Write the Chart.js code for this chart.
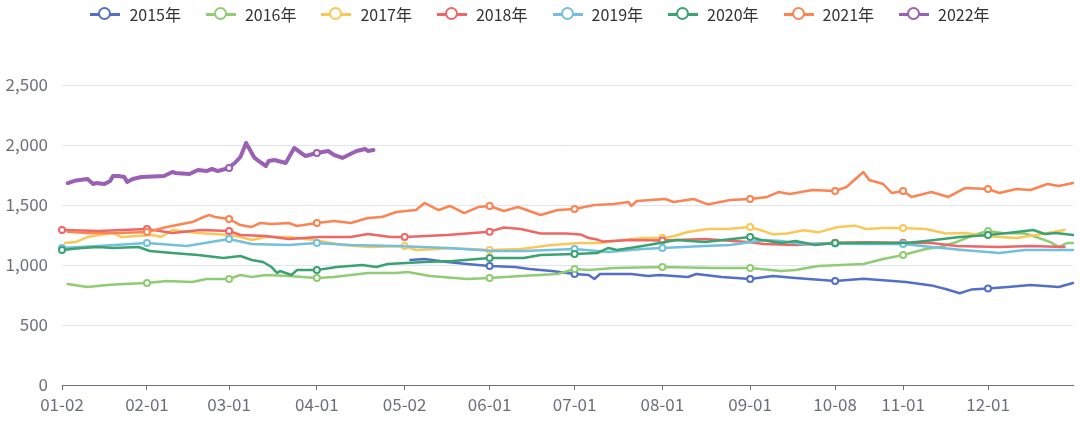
<!DOCTYPE html>
<html><head><meta charset="utf-8">
<script src="https://cdn.jsdelivr.net/npm/chart.js@4/dist/chart.umd.min.js"></script>
<style>
html,body{margin:0;padding:0;background:#fff;}
#wrap{position:relative;width:1080px;height:425px;}
#legend{position:absolute;top:3px;left:0;width:1080px;display:flex;justify-content:center;gap:25px;font:16px "Noto Sans CJK SC",sans-serif;color:#333;}
.item{display:flex;align-items:center;height:22px;}
.icon{position:relative;width:30px;height:22px;margin-right:9px;}
.icon .ln{position:absolute;left:0;top:10px;width:30px;height:3px;}
.icon .dot{position:absolute;left:8px;top:4px;width:9px;height:9px;border:2.5px solid;border-radius:50%;background:#fff;}
</style></head>
<body>
<div id="wrap"><div id="legend"></div><canvas id="c" width="1080" height="425"></canvas></div>
<script>
// ---- categories / tick labels ----
const monthDays = [31,29,31,30,31,30,31,31,30,31,30,31];
const skipDays = ['01-01','10-01','10-02','10-03','10-04','10-05','10-06','10-07'];
const tickLabels = ['01-02','02-01','03-01','04-01','05-02','06-01','07-01','08-01','09-01','10-08','11-01','12-01'];
const categories = [];
monthDays.forEach((n,m)=>{for(let d=1;d<=n;d++){const s=String(m+1).padStart(2,'0')+'-'+String(d).padStart(2,'0'); if(!skipDays.includes(s)) categories.push(s);}});

const seriesNames = ['2015年','2016年','2017年','2018年','2019年','2020年','2021年','2022年'];
const seriesColors = ['#5470c6','#91cc75','#fac858','#ee6666','#73c0de','#3ba272','#fc8452','#9a60b4'];

// ---- series values [date, value] ----
const s2015 = [['05-04',1042],['05-09',1050],['05-17',1025],['05-24',1008],['06-01',992],['06-10',983],['06-15',967],['06-23',950],['07-01',925],['07-06',917],['07-08',883],['07-10',925],['07-21',925],['07-27',908],['07-31',917],['08-10',900],['08-13',925],['08-22',900],['09-01',883],['09-09',908],['09-17',892],['10-08',867],['10-18',885],['11-02',858],['11-11',830],['11-16',800],['11-21',765],['11-25',795],['12-01',805],['12-08',817],['12-16',833],['12-26',817],['12-31',850]];
const s2016 = [['01-04',842],['01-11',817],['01-18',833],['01-24',842],['02-01',850],['02-08',867],['02-17',858],['02-22',883],['03-01',883],['03-05',917],['03-09',900],['03-14',917],['03-22',908],['04-01',892],['04-07',900],['04-13',917],['04-19',933],['04-29',933],['05-03',942],['05-11',908],['05-24',883],['06-01',892],['06-12',908],['06-25',925],['07-01',967],['07-06',958],['07-15',975],['08-01',983],['08-19',975],['09-01',975],['09-12',950],['09-17',958],['09-25',992],['10-10',1000],['10-18',1008],['10-25',1050],['11-01',1083],['11-09',1133],['11-14',1150],['11-20',1192],['11-26',1250],['12-01',1283],['12-06',1267],['12-14',1262],['12-19',1225],['12-23',1190],['12-26',1150],['12-29',1183],['12-31',1183]];
const s2017 = [['01-03',1183],['01-07',1192],['01-11',1233],['01-15',1250],['01-20',1267],['01-23',1233],['02-03',1250],['02-06',1233],['02-10',1292],['02-19',1267],['03-01',1250],['03-05',1233],['03-09',1208],['03-14',1233],['03-22',1233],['03-31',1208],['04-10',1167],['04-20',1150],['05-02',1158],['05-06',1125],['05-14',1133],['05-17',1142],['06-01',1125],['06-12',1133],['06-23',1167],['07-03',1183],['07-10',1183],['07-18',1208],['07-25',1225],['08-01',1225],['08-05',1240],['08-10',1275],['08-17',1300],['08-24',1300],['09-01',1317],['09-06',1280],['09-09',1255],['09-14',1262],['09-20',1290],['09-25',1272],['10-09',1317],['10-15',1328],['10-19',1300],['10-25',1308],['11-01',1308],['11-09',1300],['11-16',1262],['11-23',1267],['11-30',1242],['12-11',1225],['12-18',1250],['12-28',1292]];
const s2018 = [['01-02',1292],['01-15',1283],['02-01',1300],['02-10',1267],['02-20',1292],['03-01',1283],['03-05',1250],['03-14',1242],['03-22',1217],['04-02',1233],['04-13',1233],['04-19',1258],['04-27',1233],['05-02',1233],['05-17',1250],['06-01',1278],['06-06',1312],['06-12',1300],['06-19',1262],['06-28',1262],['07-03',1255],['07-06',1225],['07-09',1212],['07-11',1195],['07-21',1208],['08-01',1205],['08-16',1217],['08-31',1192],['09-06',1175],['09-17',1167],['10-08',1185],['10-19',1190],['11-01',1185],['11-11',1183],['11-20',1158],['12-05',1150],['12-16',1158],['12-28',1150]];
const s2019 = [['01-02',1142],['01-15',1158],['02-01',1183],['02-15',1158],['03-01',1217],['03-09',1175],['03-22',1167],['04-01',1183],['04-13',1167],['04-29',1158],['05-17',1142],['06-03',1117],['06-13',1117],['07-01',1133],['07-13',1108],['07-25',1133],['08-01',1142],['08-16',1158],['08-25',1167],['08-30',1183],['09-06',1208],['09-12',1200],['09-19',1175],['10-08',1180],['10-19',1175],['11-01',1175],['11-11',1150],['11-22',1125],['12-05',1100],['12-14',1125],['12-31',1125]];
const s2020 = [['01-02',1125],['01-09',1142],['01-15',1150],['01-20',1142],['01-29',1150],['02-02',1117],['02-10',1100],['02-19',1083],['02-28',1058],['03-05',1075],['03-09',1042],['03-13',1025],['03-16',983],['03-18',933],['03-19',950],['03-23',917],['03-25',958],['04-01',958],['04-08',983],['04-17',1000],['04-22',983],['04-26',1008],['05-09',1025],['05-19',1033],['06-01',1058],['06-13',1058],['06-19',1083],['07-01',1092],['07-09',1100],['07-13',1142],['07-16',1125],['07-25',1158],['07-31',1183],['08-06',1208],['08-16',1192],['09-01',1233],['09-05',1208],['09-12',1183],['09-17',1200],['09-24',1167],['10-08',1183],['10-19',1183],['11-02',1183],['11-09',1200],['11-21',1233],['12-01',1250],['12-08',1267],['12-17',1292],['12-21',1258],['12-25',1267],['12-31',1250]];
const s2021 = [['01-04',1278],['01-11',1267],['01-22',1267],['02-01',1275],['02-08',1317],['02-17',1358],['02-21',1400],['02-23',1417],['02-25',1400],['03-01',1383],['03-05',1333],['03-09',1317],['03-12',1350],['03-16',1342],['03-22',1350],['03-25',1325],['04-01',1350],['04-07',1367],['04-13',1350],['04-19',1392],['04-24',1400],['04-29',1442],['05-06',1458],['05-09',1517],['05-11',1492],['05-14',1458],['05-18',1492],['05-23',1433],['05-28',1483],['06-01',1492],['06-06',1450],['06-11',1483],['06-19',1417],['06-25',1458],['07-01',1467],['07-08',1500],['07-15',1508],['07-20',1525],['07-21',1492],['07-23',1533],['08-02',1550],['08-05',1525],['08-12',1550],['08-17',1505],['08-25',1542],['09-01',1550],['09-07',1567],['09-11',1608],['09-15',1592],['09-23',1625],['10-08',1617],['10-12',1650],['10-14',1692],['10-18',1775],['10-20',1708],['10-25',1675],['10-28',1600],['11-01',1617],['11-04',1567],['11-11',1608],['11-17',1567],['11-23',1642],['12-01',1633],['12-05',1600],['12-11',1633],['12-16',1625],['12-22',1675],['12-26',1658],['12-31',1683]];
const s2022 = [['01-04',1683],['01-07',1705],['01-11',1717],['01-13',1675],['01-14',1683],['01-17',1675],['01-19',1700],['01-20',1742],['01-22',1742],['01-24',1733],['01-25',1692],['01-27',1717],['01-30',1733],['02-07',1742],['02-10',1775],['02-11',1767],['02-16',1758],['02-19',1792],['02-22',1783],['02-24',1800],['02-26',1783],['03-01',1808],['03-02',1833],['03-03',1850],['03-05',1900],['03-07',2017],['03-10',1892],['03-12',1858],['03-14',1825],['03-15',1867],['03-17',1875],['03-21',1850],['03-24',1975],['03-28',1908],['04-01',1933],['04-05',1950],['04-07',1917],['04-10',1892],['04-15',1950],['04-18',1967],['04-19',1950],['04-21',1958]];

const allSeries = [s2015,s2016,s2017,s2018,s2019,s2020,s2021,s2022];
const yTicks = [0,500,1000,1500,2000,2500];

// ---- legend (HTML text) ----
const legend = document.getElementById('legend');
seriesNames.forEach((n,i)=>{
  const it=document.createElement('div'); it.className='item';
  it.innerHTML='<div class="icon"><div class="ln" style="background:'+seriesColors[i]+'"></div><div class="dot" style="border-color:'+seriesColors[i]+'"></div></div><span>'+n+'</span>';
  legend.appendChild(it);
});

const tickSet = new Set(tickLabels);
const FONT = '"Noto Sans CJK SC", sans-serif';
const datasets = allSeries.map((s,i)=>({
  label: seriesNames[i],
  data: s.map(p=>({x:p[0], y:p[1]})),
  borderColor: seriesColors[i],
  backgroundColor: seriesColors[i],
  borderWidth: i===7 ? 4 : 2.5,
  borderJoinStyle:'round', borderCapStyle:'round',
  tension: 0,
  pointRadius: ctx => (ctx.raw && tickSet.has(ctx.raw.x)) ? 3 : 0,
  pointBorderWidth: 2,
  pointBackgroundColor: '#fff',
  pointBorderColor: seriesColors[i],
  order: 7 - i,
  fill:false
}));

new Chart(document.getElementById('c'), {
  type:'line',
  data:{labels:categories, datasets},
  options:{
    responsive:false, animation:false,
    layout:{padding:{top:85,right:7,left:0,bottom:0}},
    plugins:{legend:{display:false}, tooltip:{enabled:false}},
    scales:{
      x:{type:'category', offset:false,
        grid:{drawOnChartArea:false, drawTicks:true, tickLength:5, color:'#6e7079'},
        border:{color:'#6e7079', width:1},
        ticks:{autoSkip:false, maxRotation:0, minRotation:0, padding:4, color:'#6e7079', font:{size:17, family:FONT}},
        afterBuildTicks:s=>{ s.ticks = s.ticks.filter(t=>tickSet.has(categories[t.value])); },
        afterFit:s=>{ s.height = 40; }
      },
      y:{min:0, max:2500,
        afterBuildTicks:s=>{ s.ticks = yTicks.map(v=>({value:v})); },
        ticks:{padding:14, color:'#6e7079', font:{size:17, family:FONT}, callback:v=>v.toLocaleString('en-US')},
        grid:{color:'#e0e6f1', drawTicks:false},
        border:{display:false},
        afterFit:s=>{ s.width = 62; }
      }
    }
  }
});
</script>
</body></html>
